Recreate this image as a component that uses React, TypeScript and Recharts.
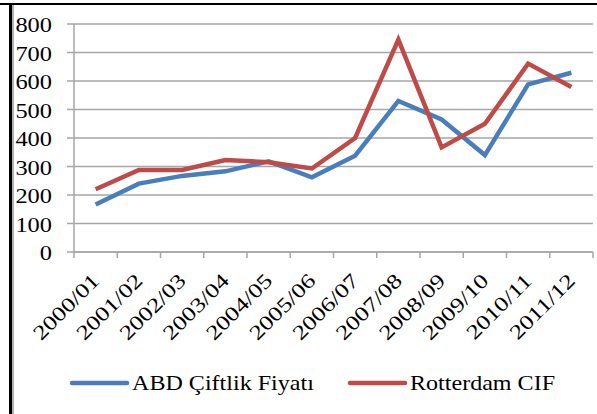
import React from 'react';
import { LineChart, Line, XAxis, YAxis, CartesianGrid } from 'recharts';

const seasons = ['2000/01', '2001/02', '2002/03', '2003/04', '2004/05', '2005/06', '2006/07', '2007/08', '2008/09', '2009/10', '2010/11', '2011/12'];
const abdPrice = [167, 240, 267, 283, 318, 262, 338, 530, 465, 340, 588, 629];
const rotterdamCif = [220, 288, 288, 323, 315, 293, 400, 745, 367, 450, 661, 579];
const yTicks = [0, 100, 200, 300, 400, 500, 600, 700, 800];
const boundaryTicks = [0, 1, 2, 3, 4, 5, 6, 7, 8, 9, 10, 11, 12];

const series = [
  { key: 'abd', name: 'ABD Çiftlik Fiyatı', color: '#4A7EBB', left: 72 },
  { key: 'rotterdam', name: 'Rotterdam CIF', color: '#BE4B48', left: 350 },
];

// each season sits in the middle of its slot, Excel style
const data = seasons.map((s, i) => ({ slot: i + 0.5, season: s, abd: abdPrice[i], rotterdam: rotterdamCif[i] }));

const FONT = 'Liberation Serif';
const GRID = '#A6A6A6';
const MARGIN = { top: 24, right: 4, left: 14, bottom: 62 };
const Y_WIDTH = 60;
const HALF_SLOT = (597 - MARGIN.left - MARGIN.right - Y_WIDTH) / seasons.length / 2;

const YTick = (props: any) => {
  const { x, y, payload } = props;
  return (
    <g transform={`translate(${x},${y})`}>
      <text transform="scale(1.22,1)" textAnchor="end" dy={8} fontFamily={FONT} fontSize={20} fill="#000">
        {payload.value}
      </text>
    </g>
  );
};

const XTick = (props: any) => {
  const { x, y, payload } = props;
  const label = seasons[payload.value];
  if (!label) return <g />;
  return (
    <g transform={`translate(${x + HALF_SLOT + 5},${y + 22}) rotate(-45)`}>
      <text transform="scale(1.25,1)" textAnchor="end" fontFamily={FONT} fontSize={20.5} fill="#000">
        {label}
      </text>
    </g>
  );
};

const App: React.FC = () => {
  return (
    <div style={{ position: 'absolute', left: 0, top: 0, width: 597, height: 414, background: '#fff', overflow: 'hidden' }}>
      {/* cadre */}
      <div style={{ position: 'absolute', left: 0, top: 3, width: 597, height: 2, background: '#000' }} />
      <div style={{ position: 'absolute', left: 9, top: 3, width: 3, height: 411, background: '#000' }} />
      <div style={{ position: 'absolute', left: 12, top: 5, width: 2, height: 409, background: '#B0B0B0' }} />

      <div style={{ position: 'absolute', left: 0, top: 0 }}>
        <LineChart width={597} height={414} data={data} margin={MARGIN}>
          <CartesianGrid vertical={false} stroke={GRID} strokeWidth={1.5} />
          <XAxis
            dataKey="slot"
            type="number"
            domain={[0, 12]}
            ticks={boundaryTicks}
            interval={0}
            height={100}
            axisLine={{ stroke: GRID, strokeWidth: 1.5 }}
            tickLine={{ stroke: GRID, strokeWidth: 1.5 }}
            tickSize={6}
            tick={<XTick />}
          />
          <YAxis
            domain={[0, 800]}
            ticks={yTicks}
            width={Y_WIDTH}
            tickSize={7}
            tickMargin={15}
            axisLine={{ stroke: GRID, strokeWidth: 1.5 }}
            tickLine={{ stroke: GRID, strokeWidth: 1.5 }}
            tick={<YTick />}
          />
          {series.map((s) => (
            <Line
              key={s.key}
              type="linear"
              dataKey={s.key}
              name={s.name}
              stroke={s.color}
              strokeWidth={4.5}
              dot={false}
              isAnimationActive={false}
            />
          ))}
        </LineChart>
      </div>

      {/* légende */}
      <svg width={597} height={40} style={{ position: 'absolute', left: 0, top: 363 }}>
        {series.map((s) => (
          <g key={s.key} transform={`translate(${s.left},20)`}>
            <line x1={0} y1={0} x2={55} y2={0} stroke={s.color} strokeWidth={4.5} strokeLinecap="round" />
            <text transform="translate(60,7) scale(1.12,1)" fontFamily={FONT} fontSize={21.5} fill="#000">
              {s.name}
            </text>
          </g>
        ))}
      </svg>
    </div>
  );
};

export default App;
